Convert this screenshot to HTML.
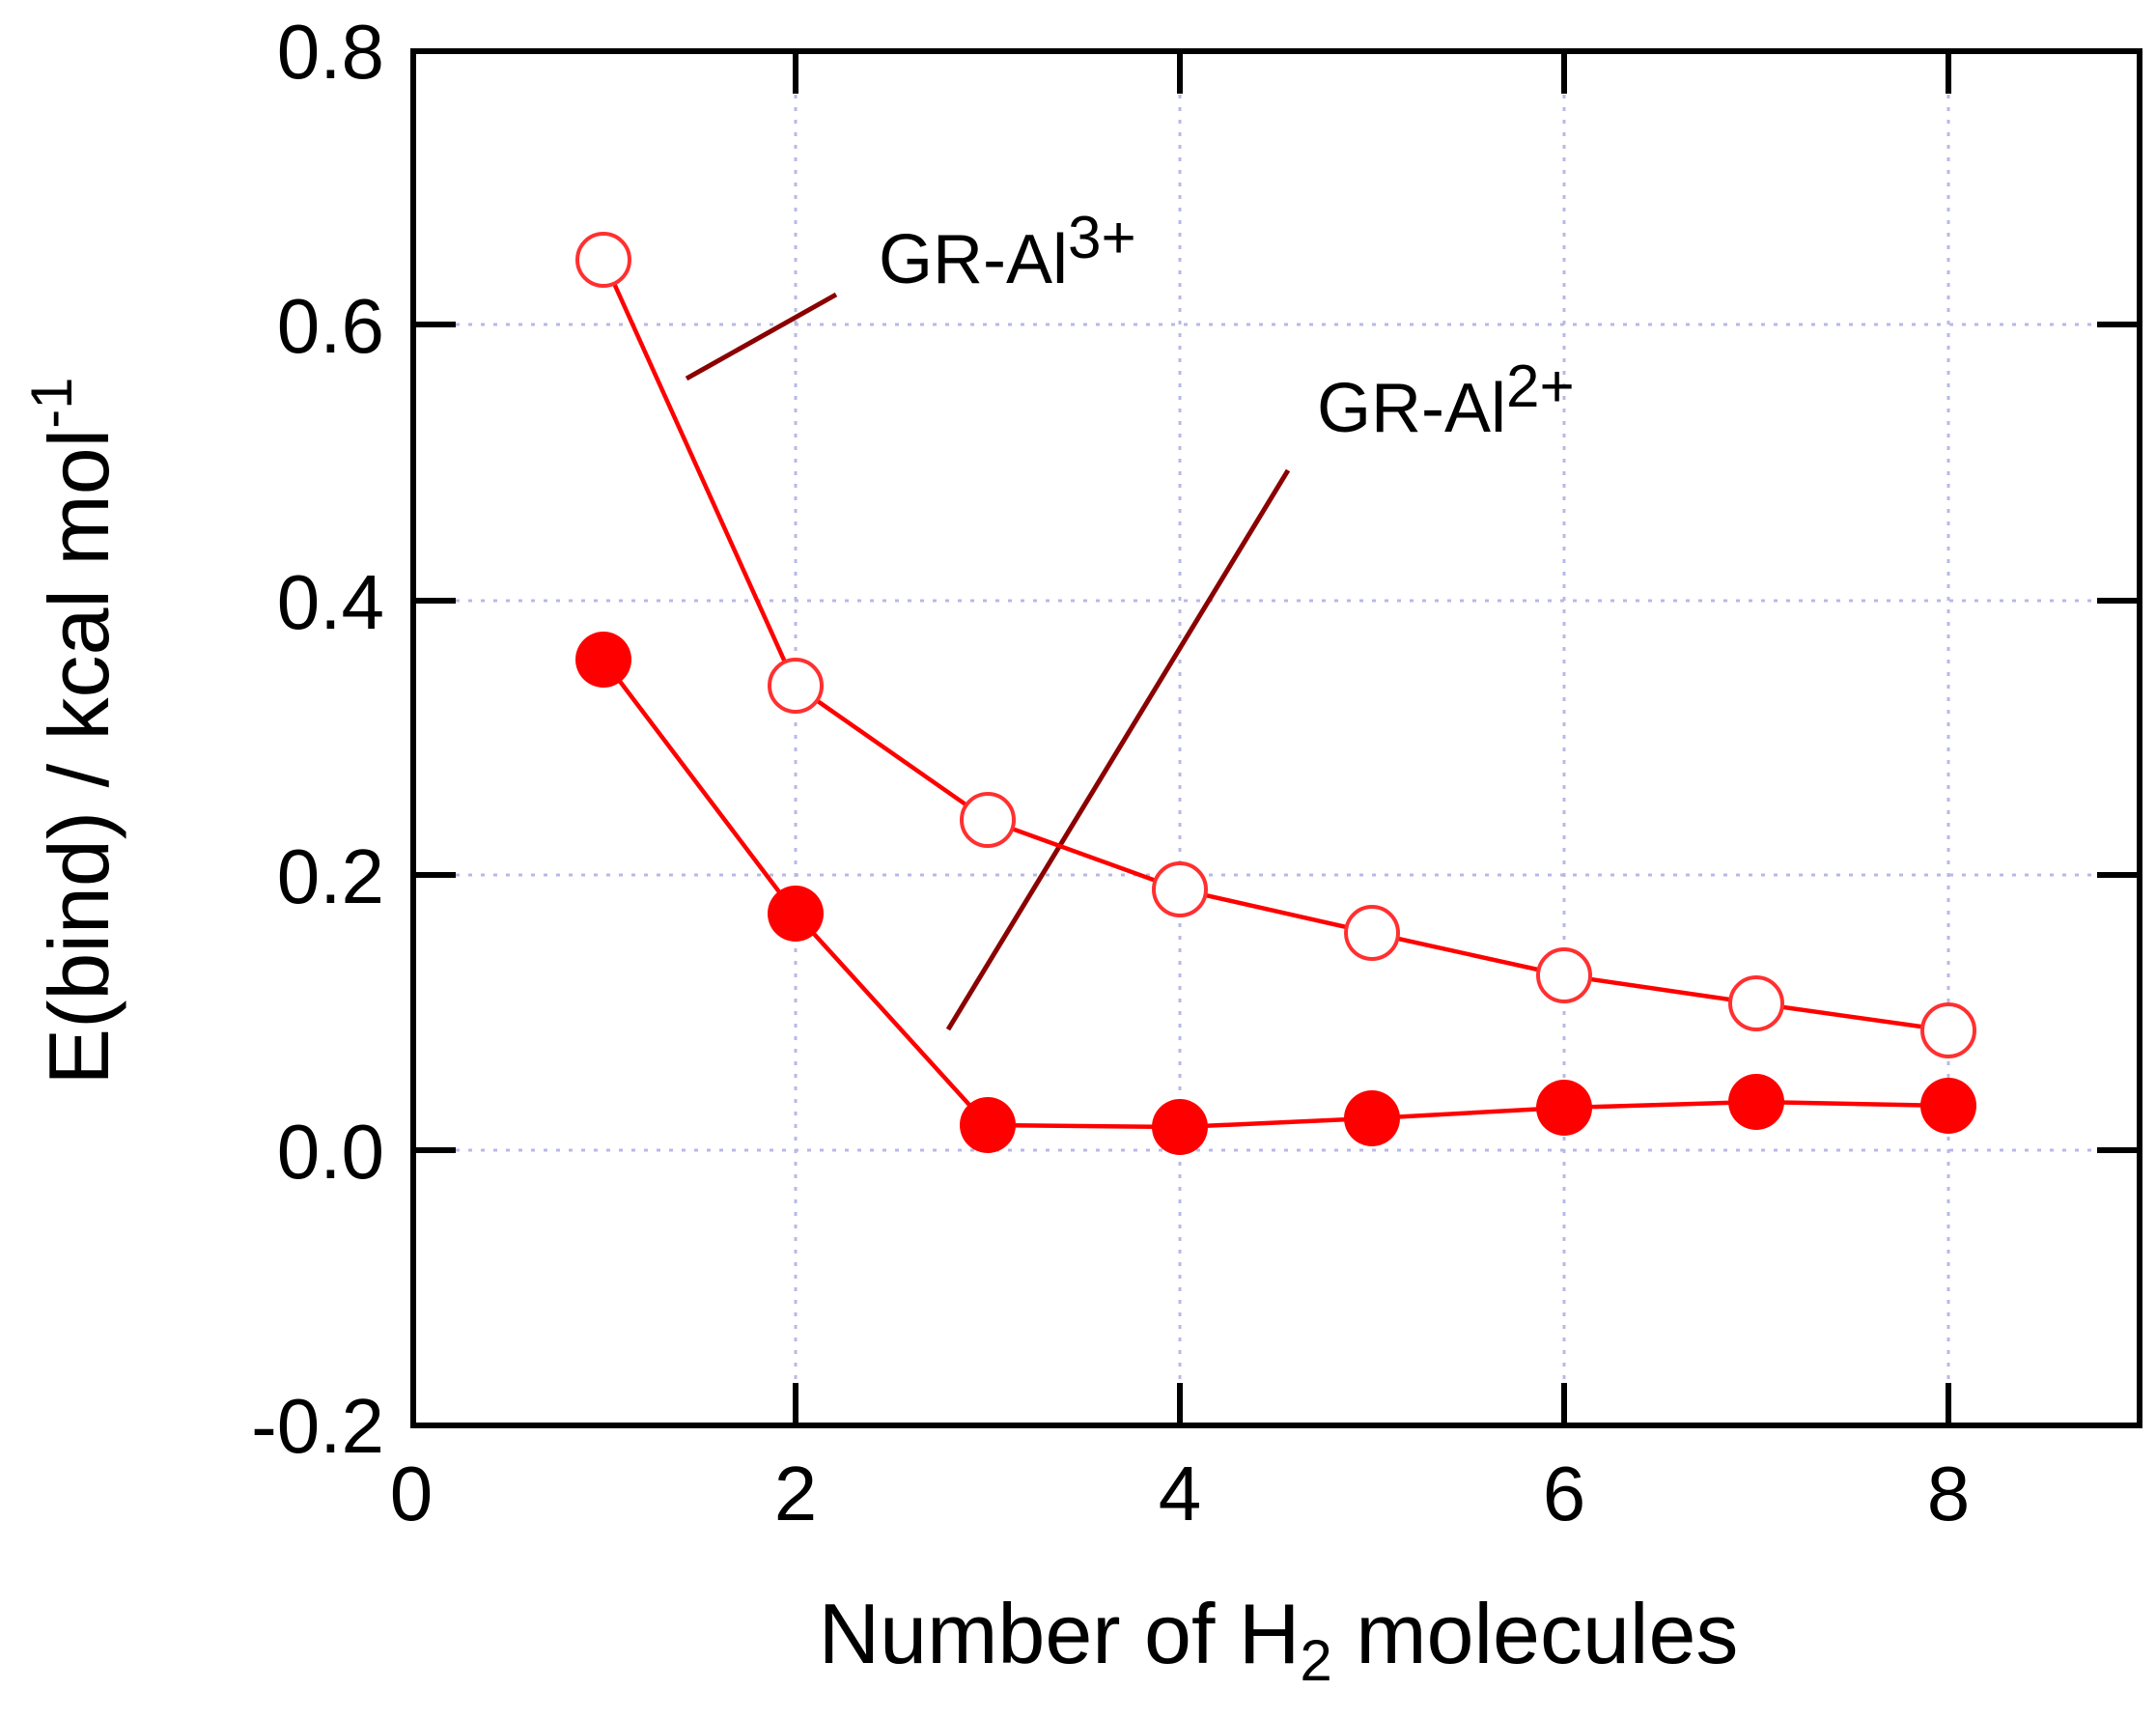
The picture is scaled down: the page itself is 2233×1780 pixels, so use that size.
<!DOCTYPE html>
<html><head><style>html,body{margin:0;padding:0;background:#fff;}</style></head>
<body>
<svg width="2233" height="1775" viewBox="0 0 2233 1775" xmlns="http://www.w3.org/2000/svg" font-family="Liberation Sans, Arial, sans-serif">
<rect width="2233" height="1775" fill="#fff"/>
<g stroke="#b8b8e8" stroke-width="3" stroke-dasharray="4,9">
<line x1="472" y1="336" x2="2172" y2="336"/>
<line x1="472" y1="622" x2="2172" y2="622"/>
<line x1="472" y1="906" x2="2172" y2="906"/>
<line x1="472" y1="1191" x2="2172" y2="1191"/>
<line x1="824" y1="98" x2="824" y2="1431"/>
<line x1="1222" y1="98" x2="1222" y2="1431"/>
<line x1="1620" y1="98" x2="1620" y2="1431"/>
<line x1="2018" y1="98" x2="2018" y2="1431"/>
</g>
<rect x="428" y="53" width="1788" height="1423" fill="none" stroke="#000" stroke-width="6"/>
<g stroke="#000" stroke-width="6">
<line x1="428" y1="336" x2="472" y2="336"/><line x1="2172" y1="336" x2="2216" y2="336"/>
<line x1="428" y1="622" x2="472" y2="622"/><line x1="2172" y1="622" x2="2216" y2="622"/>
<line x1="428" y1="906" x2="472" y2="906"/><line x1="2172" y1="906" x2="2216" y2="906"/>
<line x1="428" y1="1191" x2="472" y2="1191"/><line x1="2172" y1="1191" x2="2216" y2="1191"/>
<line x1="824" y1="1476" x2="824" y2="1432"/><line x1="1222" y1="1476" x2="1222" y2="1432"/>
<line x1="1620" y1="1476" x2="1620" y2="1432"/><line x1="2018" y1="1476" x2="2018" y2="1432"/>
<line x1="824" y1="53" x2="824" y2="97"/><line x1="1222" y1="53" x2="1222" y2="97"/>
<line x1="1620" y1="53" x2="1620" y2="97"/><line x1="2018" y1="53" x2="2018" y2="97"/>
</g>
<g font-size="80" text-anchor="end" fill="#000">
<text x="398" y="81">0.8</text><text x="398" y="365">0.6</text><text x="398" y="651">0.4</text>
<text x="398" y="935">0.2</text><text x="398" y="1220">0.0</text><text x="398" y="1504">-0.2</text>
</g>
<g font-size="80" text-anchor="middle" fill="#000">
<text x="426" y="1574">0</text><text x="824" y="1574">2</text><text x="1222" y="1574">4</text>
<text x="1620" y="1574">6</text><text x="2018" y="1574">8</text>
</g>
<text x="1324" y="1722" font-size="88" text-anchor="middle">Number of H<tspan font-size="60" dy="18">2</tspan><tspan dy="-18"> molecules</tspan></text>
<text transform="translate(112,757) rotate(-90)" font-size="88" text-anchor="middle">E(bind) / kcal mol<tspan font-size="60" dy="-38">-1</tspan></text>
<g stroke="#8b0000" stroke-width="5">
<line x1="711" y1="392" x2="866" y2="305"/>
<line x1="982" y1="1066" x2="1334" y2="487"/>
</g>
<text x="910" y="293" font-size="72">GR-Al<tspan font-size="62" dy="-26">3+</tspan></text>
<text x="1364" y="447" font-size="72">GR-Al<tspan font-size="62" dy="-26">2+</tspan></text>
<polyline fill="none" stroke="#ff0000" stroke-width="4.5" points="625,269 824,710 1023,849 1222,921 1421,966 1620,1010 1819,1039 2018,1067"/>
<polyline fill="none" stroke="#ff0000" stroke-width="4.5" points="625,683 824,946 1023,1165 1222,1167 1421,1158 1620,1147 1819,1141 2018,1145"/>
<g fill="#fff" stroke="#ff3030" stroke-width="4">
<circle cx="625" cy="269" r="27"/><circle cx="824" cy="710" r="27"/><circle cx="1023" cy="849" r="27"/>
<circle cx="1222" cy="921" r="27"/><circle cx="1421" cy="966" r="27"/><circle cx="1620" cy="1010" r="27"/>
<circle cx="1819" cy="1039" r="27"/><circle cx="2018" cy="1067" r="27"/>
</g>
<g fill="#ff0000">
<circle cx="625" cy="683" r="29"/><circle cx="824" cy="946" r="29"/><circle cx="1023" cy="1165" r="29"/>
<circle cx="1222" cy="1167" r="29"/><circle cx="1421" cy="1158" r="29"/><circle cx="1620" cy="1147" r="29"/>
<circle cx="1819" cy="1141" r="29"/><circle cx="2018" cy="1145" r="29"/>
</g>
</svg>
</body></html>
